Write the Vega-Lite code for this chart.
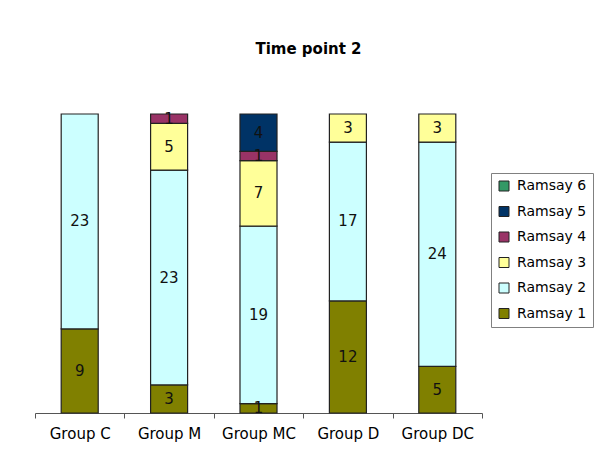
{
  "$schema": "https://vega.github.io/schema/vega-lite/v6.json",
  "width": 447,
  "height": 299,
  "autosize": {"type": "none"},
  "padding": {"left": 35, "top": 114, "right": 121, "bottom": 56},
  "background": "white",
  "title": {
    "text": "Time point 2",
    "font": "DejaVu Sans",
    "fontSize": 15,
    "fontWeight": "bold",
    "color": "black",
    "anchor": "middle",
    "frame": "group",
    "dx": 50,
    "offset": 55
  },
  "config": {
    "view": {"stroke": null},
    "font": "DejaVu Sans"
  },
  "data": {
    "values": [
      {"group": "Group C", "ramsay": "Ramsay 1", "r": 1, "count": 9},
      {"group": "Group C", "ramsay": "Ramsay 2", "r": 2, "count": 23},
      {"group": "Group M", "ramsay": "Ramsay 1", "r": 1, "count": 3},
      {"group": "Group M", "ramsay": "Ramsay 2", "r": 2, "count": 23},
      {"group": "Group M", "ramsay": "Ramsay 3", "r": 3, "count": 5},
      {"group": "Group M", "ramsay": "Ramsay 4", "r": 4, "count": 1},
      {"group": "Group MC", "ramsay": "Ramsay 1", "r": 1, "count": 1},
      {"group": "Group MC", "ramsay": "Ramsay 2", "r": 2, "count": 19},
      {"group": "Group MC", "ramsay": "Ramsay 3", "r": 3, "count": 7},
      {"group": "Group MC", "ramsay": "Ramsay 4", "r": 4, "count": 1},
      {"group": "Group MC", "ramsay": "Ramsay 5", "r": 5, "count": 4},
      {"group": "Group D", "ramsay": "Ramsay 1", "r": 1, "count": 12},
      {"group": "Group D", "ramsay": "Ramsay 2", "r": 2, "count": 17},
      {"group": "Group D", "ramsay": "Ramsay 3", "r": 3, "count": 3},
      {"group": "Group DC", "ramsay": "Ramsay 1", "r": 1, "count": 5},
      {"group": "Group DC", "ramsay": "Ramsay 2", "r": 2, "count": 24},
      {"group": "Group DC", "ramsay": "Ramsay 3", "r": 3, "count": 3}
    ]
  },
  "encoding": {
    "x": {
      "field": "group",
      "type": "nominal",
      "sort": ["Group C", "Group M", "Group MC", "Group D", "Group DC"],
      "scale": {"paddingInner": 0, "paddingOuter": 0},
      "axis": {
        "title": null,
        "labelAngle": 0,
        "labelFont": "DejaVu Sans",
        "labelFontSize": 15,
        "labelColor": "black",
        "labelPadding": 8,
        "domainColor": "#555555",
        "tickColor": "#555555",
        "tickSize": 5,
        "tickWidth": 1,
        "ticks": true,
        "tickBand": "extent"
      }
    },
    "y": {
      "field": "count",
      "type": "quantitative",
      "stack": "normalize",
      "scale": {"domain": [0, 1]},
      "axis": null
    },
    "order": {"field": "r", "type": "quantitative", "sort": "ascending"}
  },
  "layer": [
    {
      "mark": {"type": "bar", "stroke": "#222222", "strokeWidth": 1.2, "width": {"band": 0.414}},
      "encoding": {
        "color": {
          "field": "ramsay",
          "type": "nominal",
          "scale": {
            "domain": ["Ramsay 6", "Ramsay 5", "Ramsay 4", "Ramsay 3", "Ramsay 2", "Ramsay 1"],
            "range": ["#339966", "#003366", "#993366", "#FFFF99", "#CCFFFF", "#808000"]
          },
          "legend": {
            "title": null,
            "orient": "none",
            "legendX": 456,
            "legendY": 59,
            "symbolType": "square",
            "symbolSize": 100,
            "symbolStrokeColor": "#222222",
            "symbolStrokeWidth": 1,
            "labelFont": "DejaVu Sans",
            "labelFontSize": 14,
            "labelColor": "black",
            "labelOffset": 6,
            "rowPadding": 11.5,
            "padding": 6,
            "fillColor": "white",
            "strokeColor": "#808080"
          }
        }
      }
    },
    {
      "mark": {"type": "text", "font": "DejaVu Sans", "fontSize": 15, "color": "#111111", "baseline": "middle"},
      "encoding": {
        "y": {
          "field": "count",
          "type": "quantitative",
          "stack": "normalize",
          "bandPosition": 0.5
        },
        "text": {"field": "count", "type": "quantitative"}
      }
    }
  ]
}
